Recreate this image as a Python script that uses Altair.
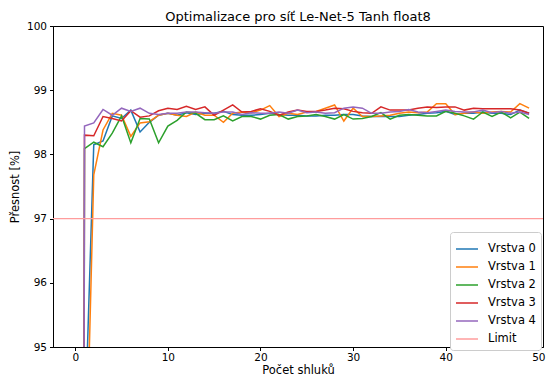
import altair as alt
import pandas as pd

clusters = list(range(50))

vrstva0 = [10.0, 93.5, 98.15, 98.21, 98.60, 98.56, 98.69, 98.35, 98.50, 98.61,
           98.64, 98.61, 98.65, 98.62, 98.64, 98.64, 98.67, 98.62, 98.61, 98.61,
           98.62, 98.64, 98.62, 98.61, 98.61, 98.60, 98.60, 98.61, 98.61, 98.62,
           98.62, 98.60, 98.59, 98.59, 98.59, 98.59, 98.61, 98.62, 98.64, 98.65,
           98.67, 98.62, 98.64, 98.64, 98.66, 98.64, 98.64, 98.62, 98.69, 98.64]
vrstva1 = [10.0, 92.0, 97.68, 98.38, 98.64, 98.61, 98.28, 98.49, 98.51, 98.61,
           98.64, 98.61, 98.59, 98.66, 98.61, 98.61, 98.50, 98.64, 98.66, 98.65,
           98.69, 98.76, 98.59, 98.64, 98.62, 98.66, 98.67, 98.72, 98.77, 98.52,
           98.72, 98.59, 98.59, 98.60, 98.61, 98.64, 98.66, 98.65, 98.66, 98.79,
           98.79, 98.62, 98.64, 98.66, 98.64, 98.66, 98.67, 98.66, 98.79, 98.72]
vrstva2 = [10.0, 98.09, 98.19, 98.12, 98.33, 98.60, 98.18, 98.56, 98.55, 98.18,
           98.44, 98.53, 98.66, 98.64, 98.54, 98.54, 98.60, 98.52, 98.59, 98.59,
           98.55, 98.61, 98.62, 98.55, 98.59, 98.60, 98.62, 98.59, 98.55, 98.62,
           98.55, 98.56, 98.59, 98.65, 98.55, 98.61, 98.62, 98.61, 98.60, 98.60,
           98.67, 98.64, 98.60, 98.55, 98.66, 98.59, 98.66, 98.57, 98.66, 98.56]
vrstva3 = [10.0, 98.30, 98.29, 98.59, 98.56, 98.52, 98.68, 98.58, 98.60, 98.68,
           98.72, 98.70, 98.75, 98.70, 98.74, 98.61, 98.69, 98.77, 98.66, 98.67,
           98.71, 98.67, 98.61, 98.66, 98.69, 98.67, 98.67, 98.69, 98.72, 98.71,
           98.67, 98.65, 98.64, 98.74, 98.69, 98.69, 98.69, 98.72, 98.74, 98.73,
           98.74, 98.74, 98.69, 98.72, 98.71, 98.71, 98.71, 98.71, 98.69, 98.64]
vrstva4 = [10.0, 98.44, 98.49, 98.70, 98.61, 98.72, 98.67, 98.72, 98.64, 98.62,
           98.64, 98.64, 98.66, 98.66, 98.65, 98.64, 98.66, 98.66, 98.62, 98.65,
           98.64, 98.64, 98.66, 98.64, 98.69, 98.65, 98.66, 98.64, 98.65, 98.72,
           98.74, 98.72, 98.64, 98.64, 98.66, 98.67, 98.70, 98.66, 98.65, 98.67,
           98.69, 98.67, 98.66, 98.66, 98.69, 98.65, 98.67, 98.64, 98.66, 98.62]

series_names = ["Vrstva 0", "Vrstva 1", "Vrstva 2", "Vrstva 3", "Vrstva 4", "Limit"]
series_colors = ["#1f77b4", "#ff7f0e", "#2ca02c", "#d62728", "#9467bd", "#ff9c9c"]
limit_value = [97.0]
x_ticks = [0, 10, 20, 30, 40, 50]
y_ticks = [95, 96, 97, 98, 99, 100]

rows = []
for name, vals in zip(series_names[:5], [vrstva0, vrstva1, vrstva2, vrstva3, vrstva4]):
    for c, v in zip(clusters, vals):
        rows.append({"clusters": c, "acc": v, "series": name})
df = pd.DataFrame(rows)
limit_df = pd.DataFrame({"acc": limit_value, "series": ["Limit"]})

FONT = "DejaVu Sans"

color = alt.Color(
    "series:N",
    scale=alt.Scale(domain=series_names, range=series_colors),
    legend=alt.Legend(
        title=None, orient="none", legendX=397, legendY=206,
        symbolType="stroke", symbolSize=484, symbolStrokeWidth=1.5,
        labelFontSize=11.5, labelColor="black", labelFont=FONT,
        rowPadding=-4, labelOffset=9, padding=5,
        strokeColor="#cccccc", fillColor="white", cornerRadius=3,
    ),
)

x = alt.X("clusters:Q", title="Počet shluků",
          scale=alt.Scale(domain=[-2.4, 50.5], nice=False, zero=False),
          axis=alt.Axis(values=x_ticks, format="d"))
y = alt.Y("acc:Q", title="Přesnost [%]",
          scale=alt.Scale(domain=[95, 100], nice=False, zero=False),
          axis=alt.Axis(values=y_ticks, format="d"))

lines = alt.Chart(df).mark_line(clip=True, strokeWidth=1.5).encode(
    x=x, y=y, color=color, detail="series:N",
    order=alt.Order("clusters:Q"),
)
limit = alt.Chart(limit_df).mark_rule(strokeWidth=1.2).encode(
    y=alt.Y("acc:Q"), color=alt.Color("series:N")
)

chart = alt.layer(lines, limit).properties(
    width=490, height=321,
    title=alt.TitleParams("Optimalizace pro síť Le-Net-5 Tanh float8",
                          fontSize=13, font=FONT, fontWeight="normal",
                          color="black", offset=1, dy=3.5),
    autosize=alt.AutoSizeParams(type="none"),
    padding={"left": 45, "top": 18, "right": 3, "bottom": 29},
).configure_view(stroke="black", strokeWidth=1).configure_axis(
    grid=False, domainColor="black", tickColor="black", tickSize=3.5,
    labelFontSize=10.5, labelFont=FONT, labelColor="black",
    titleFontSize=11.5, titleFont=FONT, titleColor="black",
    titleFontWeight="normal", domainWidth=1,
).configure_axisY(titlePadding=6, labelPadding=3).configure_axisX(titlePadding=1, labelPadding=2)

chart.save("out.html", embed_options={"renderer": "svg", "actions": False})
